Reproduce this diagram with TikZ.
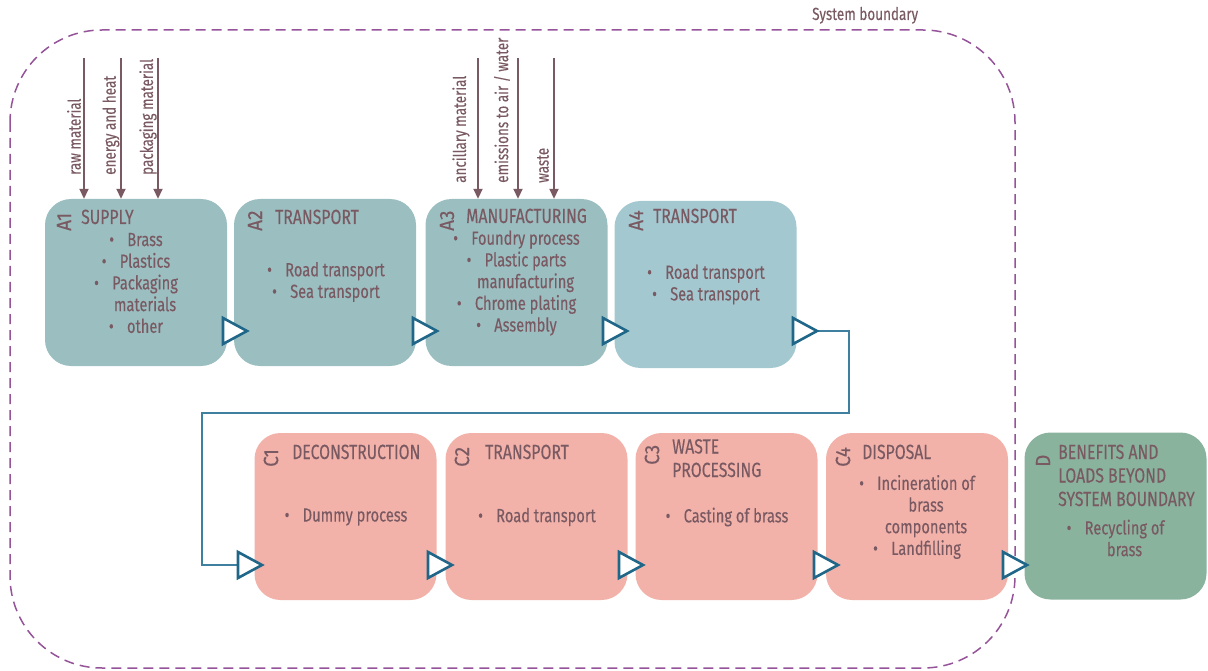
\documentclass[tikz,border=0pt]{standalone}
\usepackage{fontspec}
\setmainfont[FakeStretch=0.77,FakeBold=0.25]{Fira Sans}
\newfontfamily\idfont[FakeStretch=0.92,FakeBold=0.25]{Fira Sans}
\usetikzlibrary{arrows.meta,calc}
\definecolor{txt}{HTML}{7A5A62}
\definecolor{boxA}{HTML}{9BBEC0}
\definecolor{boxAb}{HTML}{A3C8D0}
\definecolor{boxC}{HTML}{F2B2AA}
\definecolor{boxD}{HTML}{8AB39E}
\definecolor{tric}{HTML}{1F6688}
\definecolor{connc}{HTML}{3F80A0}
\definecolor{boundc}{HTML}{955399}
\newcommand\bul{\textbullet\hspace{0.7em}}
\newcommand\bcont{\phantom{\bul}}
\begin{document}
\begin{tikzpicture}[x=1pt,y=-1pt,
 stage/.style={rounded corners=26pt, minimum width=182pt, minimum height=167pt, inner sep=0pt, draw=none},
 idlab/.style={rotate=90, anchor=west, inner sep=0pt, font=\idfont\fontsize{20.5}{22}\selectfont, text=txt},
 ttl/.style={anchor=base west, inner sep=0pt, align=left, font=\fontsize{20.5}{23.5}\selectfont, text=txt},
 body/.style={inner sep=0pt, align=center, font=\fontsize{19}{21.7}\selectfont, text=txt},
 flowlab/.style={rotate=90, anchor=west, inner sep=0pt, font=\fontsize{17.5}{18}\selectfont, text=txt},
 inarrow/.style={draw=txt, line width=1.8pt, -{Triangle[width=9pt,length=10pt]}},
 tritip/.style={draw=tric, fill=white, line width=2.6pt, line join=miter},
 link/.style={draw=connc, line width=1.6pt},
 boundary/.style={draw=boundc, line width=1.5pt, dash pattern=on 10pt off 6pt, rounded corners=92pt},
]
\useasboundingbox (0,0) rectangle (1208,671);

% system boundary
\draw[boundary] (10,30) rectangle (1015,668);
\node[inner sep=0pt, anchor=base west, font=\fontsize{17.5}{18}\selectfont, text=txt] (sbl) at (812,20) {System boundary};

% stage boxes
\node[stage, fill=boxA]  (a1) at (136,282.5) {};
\node[stage, fill=boxA]  (a2) at (325,282.5) {};
\node[stage, fill=boxA]  (a3) at (516.5,282.5) {};
\node[stage, fill=boxAb] (a4) at (705.5,284.5) {};
\node[stage, fill=boxC]  (c1) at (345.5,516.5) {};
\node[stage, fill=boxC]  (c2) at (536.5,516.5) {};
\node[stage, fill=boxC]  (c3) at (726.5,516.5) {};
\node[stage, fill=boxC]  (c4) at (917,516.5) {};
\node[stage, fill=boxD]  (d)  at (1115.5,516) {};

% ids
\node[idlab] (a1id) at (64,231) {A1};
\node[idlab] (a2id) at (255,231) {A2};
\node[idlab] (a3id) at (447,231) {A3};
\node[idlab] (a4id) at (636,231) {A4};
\node[idlab] (c1id) at (271,467) {C1};
\node[idlab] (c2id) at (462,467) {C2};
\node[idlab] (c3id) at (652,465) {C3};
\node[idlab] (c4id) at (843,467) {C4};
\node[idlab] (did)  at (1043,467) {D};

% titles (base anchor = last line baseline)
\node[ttl] (a1t) at (81,224) {SUPPLY};
\node[ttl] (a2t) at (275,224) {TRANSPORT};
\node[ttl] (a3t) at (466,223) {MANUFACTURING};
\node[ttl] (a4t) at (653,223) {TRANSPORT};
\node[ttl] (c1t) at (292,459) {DECONSTRUCTION};
\node[ttl] (c2t) at (485,459) {TRANSPORT};
\node[ttl] (c3t) at (672,477) {WASTE\\PROCESSING};
\node[ttl] (c4t) at (862,459) {DISPOSAL};
\node[ttl] (dt)  at (1058,506) {BENEFITS AND\\LOADS BEYOND\\SYSTEM BOUNDARY};

% bodies
\node[body] (a1b) at (136,283) {\bul Brass\\\bul Plastics\\\bul Packaging\\\bcont materials\\\bul other};
\node[body] (a2b) at (326,282) {\bul Road transport\\\bul Sea transport};
\node[body] (a3b) at (516.5,283) {\bul Foundry process\\\bul Plastic parts\\\bcont manufacturing\\\bul Chrome plating\\\bul Assembly};
\node[body] (a4b) at (706,284.5) {\bul Road transport\\\bul Sea transport};
\node[body] (c1b) at (346,517) {\bul Dummy process};
\node[body] (c2b) at (537,517) {\bul Road transport};
\node[body] (c3b) at (727,517) {\bul Casting of brass};
\node[body] (c4b) at (917,517) {\bul Incineration of\\\bcont brass\\\bcont components\\\bul Landfilling};
\node[body] (db)  at (1115.5,538) {\bul Recycling of\\\bcont brass};

% input flows
\coordinate (i1) at (84,58);
\coordinate (i2) at (121,58);
\coordinate (i3) at (158,58);
\coordinate (i4) at (478,58);
\coordinate (i5) at (518,58);
\coordinate (i6) at (554,58);
\draw[inarrow] (i1) -- (i1 |- a1.north);
\draw[inarrow] (i2) -- (i2 |- a1.north);
\draw[inarrow] (i3) -- (i3 |- a1.north);
\draw[inarrow] (i4) -- (i4 |- a3.north);
\draw[inarrow] (i5) -- (i5 |- a3.north);
\draw[inarrow] (i6) -- (i6 |- a3.north);
\node[flowlab] (l1) at (74,175) {raw material};
\node[flowlab] (l2) at (111,175) {energy and heat};
\node[flowlab] (l3) at (148,175) {packaging material};
\node[flowlab] (l4) at (461,183) {ancillary material};
\node[flowlab] (l5) at (502,183) {emissions to air / water};
\node[flowlab] (l6) at (543,183) {waste};

% connector A4 -> C1
\coordinate (t1) at (247,331);
\coordinate (t2) at (437,331);
\coordinate (t3) at (627,331);
\coordinate (t4) at (817,331);
\coordinate (t5) at (262,565);
\coordinate (t6) at (452,565);
\coordinate (t7) at (643,565);
\coordinate (t8) at (838,565);
\coordinate (t9) at (1027,565);
\coordinate (k1) at (849,331);
\coordinate (k2) at (849,413);
\coordinate (k3) at (202,413);
\coordinate (k4) at (202,565);
\draw[link] (t4) -- (k1) -- (k2) -- (k3) -- (k4) -- ($(t5)+(-24,0)$);

% flow triangles
\foreach \t in {t1,t2,t3,t4,t5,t6,t7,t8,t9}{
  \draw[tritip] (\t) -- ++(-24,-13) -- ++(0,26) -- cycle;
}
\end{tikzpicture}
\end{document}
